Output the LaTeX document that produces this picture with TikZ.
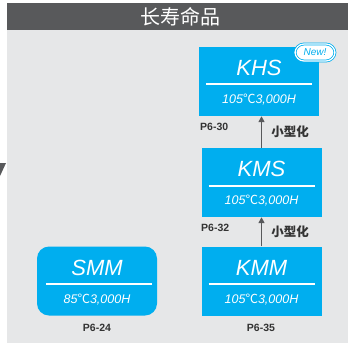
\documentclass[tikz,border=0pt]{standalone}
\usepackage{fontspec}
\setmainfont{Liberation Sans}
\newfontfamily\cjk{Noto Sans CJK SC}
\usetikzlibrary{positioning, calc, arrows.meta}
\definecolor{boxblue}{HTML}{00AEEF}
\definecolor{panelgray}{HTML}{E6E7E8}
\definecolor{bargray}{HTML}{58595B}
\definecolor{labelgray}{HTML}{333333}
\tikzstyle{Arrow} = [
%Arrow between the series:
line width=1.6pt, draw=bargray,
-{Triangle[length=6pt, width=6pt]}
]

\begin{document}
\begin{tikzpicture}[x=1pt, y=-1pt,
			series/.style = {rectangle, fill=boxblue, minimum width=120pt, minimum height=69pt, inner sep=0pt},
			roundseries/.style = {series, rounded corners=12pt},
			seriesname/.style = {text=white, font=\fontsize{22}{22}\selectfont\itshape, inner sep=0pt},
			spec/.style = {text=white, font=\fontsize{12.5}{13}\selectfont\itshape, inner sep=0pt},
			sepline/.style = {draw=white, line width=1.2pt},
			pageref/.style = {text=labelgray, font=\fontsize{10.5}{11}\selectfont\bfseries, inner sep=0pt},
			steplabel/.style = {text=labelgray, font=\cjk\fontsize{12.5}{13}\selectfont\bfseries, inner sep=0pt},
			newtag/.style = {rectangle, rounded corners=9pt, fill=white, draw=boxblue, double=white, double distance=1.2pt,
				line width=0.8pt, minimum width=40pt, minimum height=17pt, inner sep=0pt, text=boxblue,
				font=\fontsize{10}{10}\selectfont\itshape},
		]
		\useasboundingbox (0,0) rectangle (348,343);
		% background and heading
		\fill[panelgray] (7,30) rectangle (348,343);
		\fill[bargray] (7,3) rectangle (348,30);
		\node[text=white, font=\cjk\fontsize{20}{20}\selectfont, inner sep=0pt](head) at (180,17){长寿命品};
		\fill[bargray] (0,163) -- (6,163) -- (0,176) -- cycle;

		% series boxes
		\node[series](KHS) at (259,81.5){};
		\node[series](KMS) at (261.5,182.5){};
		\node[series](KMM) at (261.5,281){};
		\node[roundseries](SMM) at (97,281){};

		\node[seriesname](KHSname) at ($(KHS.center)+(0,-13.5)$){KHS};
		\node[seriesname](KMSname) at ($(KMS.center)+(0,-13.5)$){KMS};
		\node[seriesname](KMMname) at ($(KMM.center)+(0,-13)$){KMM};
		\node[seriesname](SMMname) at ($(SMM.center)+(0,-13)$){SMM};

		\draw[sepline]($(KHS.center)+(-53,2.5)$)--($(KHS.center)+(53,2.5)$);
		\draw[sepline]($(KMS.center)+(-53,3.5)$)--($(KMS.center)+(53,3.5)$);
		\draw[sepline]($(KMM.center)+(-53,3)$)--($(KMM.center)+(53,3)$);
		\draw[sepline]($(SMM.center)+(-51,3)$)--($(SMM.center)+(55,3)$);

		\node[spec](KHSspec) at ($(KHS.center)+(0,18.5)$){105{\cjk\upshape ℃}3,000H};
		\node[spec](KMSspec) at ($(KMS.center)+(0,18.5)$){105{\cjk\upshape ℃}3,000H};
		\node[spec](KMMspec) at ($(KMM.center)+(0,19)$){105{\cjk\upshape ℃}3,000H};
		\node[spec](SMMspec) at ($(SMM.center)+(0,19)$){85{\cjk\upshape ℃}3,000H};

		\node[newtag](new) at (315,52.5){New!};

		% page references
		\node[pageref, anchor=west](p630) at (200,127){P6-30};
		\node[pageref, anchor=west](p632) at (201,228){P6-32};
		\node[pageref](p635) at (261,328){P6-35};
		\node[pageref](p624) at (97,328){P6-24};

		% miniaturisation steps
		\draw[Arrow](KMS.north)--node[midway, right=9pt, steplabel](step1){小型化}(KMS.north |- KHS.south);
		\draw[Arrow](KMM.north)--node[midway, right=9pt, steplabel](step2){小型化}(KMM.north |- KMS.south);

	\end{tikzpicture}
\end{document}
